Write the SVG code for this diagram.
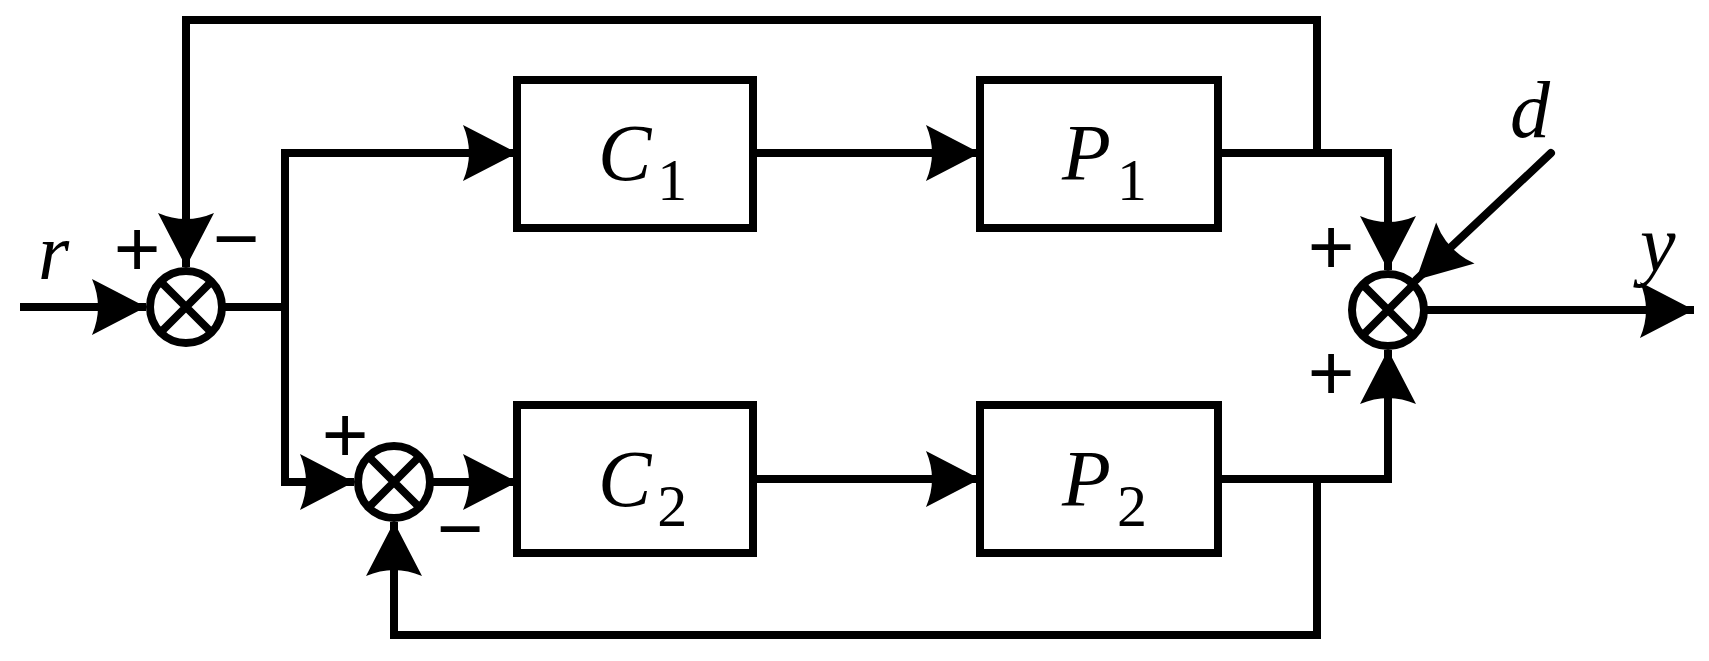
<svg xmlns="http://www.w3.org/2000/svg" width="1709" height="661" viewBox="0 0 1709 661">
<defs>
<style>
.l{fill:none;stroke:#000;stroke-width:8;stroke-linejoin:miter}
.b{fill:#fff;stroke:#000;stroke-width:8}
.v{font-family:"Liberation Serif",serif;font-style:italic;font-size:80px}
.s{font-family:"Liberation Serif",serif;font-size:60px;font-style:normal}
.p{font-family:"Liberation Sans",sans-serif;font-size:80px;text-anchor:middle}
</style>
<marker id="a" markerUnits="userSpaceOnUse" markerWidth="70" markerHeight="70" viewBox="-60 -35 65 70" refX="0" refY="0" orient="auto">
<path d="M0,0 L-54,-28 Q-42,0 -54,28 Z" fill="#000"/>
</marker>
<g id="sum"><circle r="36" class="b"/><path d="M-25,-25 L25,25 M-25,25 L25,-25" class="l"/></g>
</defs>
<g id="connectors">
<path class="l" d="M20,307 L146,307" marker-end="url(#a)"/>
<path class="l" d="M1317,153 L1317,20 L186,20 L186,267" marker-end="url(#a)"/>
<path class="l" d="M222,307 L285,307"/>
<path class="l" d="M285,307 L285,153 L517,153" marker-end="url(#a)"/>
<path class="l" d="M285,307 L285,482 L354,482" marker-end="url(#a)"/>
<path class="l" d="M430,482 L517,482" marker-end="url(#a)"/>
<path class="l" d="M753,153 L980,153" marker-end="url(#a)"/>
<path class="l" d="M753,479 L980,479" marker-end="url(#a)"/>
<path class="l" d="M1218,153 L1388,153 L1388,270" marker-end="url(#a)"/>
<path class="l" d="M1218,479 L1388,479 L1388,350" marker-end="url(#a)"/>
<path class="l" d="M1317,479 L1317,635 L394,635 L394,522" marker-end="url(#a)"/>
<path class="l" d="M1551,153 L1416,280" marker-end="url(#a)" style="stroke-linecap:round"/>
<path class="l" d="M1424,310 L1694,310" marker-end="url(#a)"/>
</g>
<g id="J1"><use href="#sum" x="186" y="307"/></g>
<g id="J2"><use href="#sum" x="394" y="482"/></g>
<g id="J3"><use href="#sum" x="1388" y="310"/></g>
<g id="C1"><rect class="b" x="517" y="80" width="236" height="148"/><text x="598" y="180" class="v">C<tspan class="s" dy="20" dx="6">1</tspan></text></g>
<g id="P1"><rect class="b" x="980" y="80" width="238" height="148"/><text x="1062" y="180" class="v">P<tspan class="s" dy="20" dx="6">1</tspan></text></g>
<g id="C2"><rect class="b" x="517" y="405" width="236" height="148"/><text x="598" y="506" class="v">C<tspan class="s" dy="20" dx="6">2</tspan></text></g>
<g id="P2"><rect class="b" x="980" y="405" width="238" height="148"/><text x="1062" y="506" class="v">P<tspan class="s" dy="20" dx="6">2</tspan></text></g>
<g id="labels">
<text x="38" y="279" class="v">r</text>
<text x="1510" y="137" class="v">d</text>
<text x="1640" y="271" class="v">y</text>
<text x="137" y="276" class="p">+</text>
<text x="236" y="266" class="p">−</text>
<text x="345" y="462" class="p">+</text>
<text x="460" y="556" class="p">−</text>
<text x="1331" y="274" class="p">+</text>
<text x="1331" y="400" class="p">+</text>
</g>
</svg>
